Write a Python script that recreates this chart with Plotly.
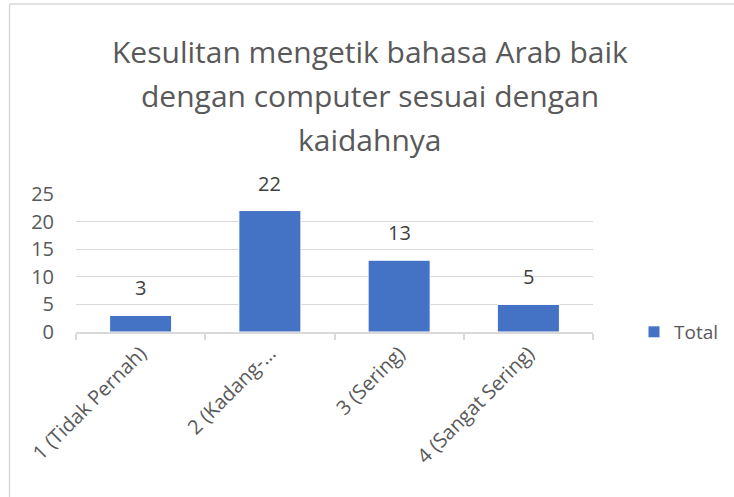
import plotly.graph_objects as go

categories = ["1 (Tidak Pernah)", "2 (Kadang-…", "3 (Sering)", "4 (Sangat Sering)"]
values = [3, 22, 13, 5]
series_name = "Total"
title_lines = ["Kesulitan mengetik bahasa Arab baik", "dengan computer sesuai dengan", "kaidahnya"]
y_ticks = [0, 5, 10, 15, 20, 25]

FONT = "'Open Sans', sans-serif"
W, H = 734, 497
L, R, T, B = 76, 141, 194, 165
plot_h = H - T - B
plot_w = W - L - R

def py(p):
    return (H - B - p) / plot_h

def px(p):
    return (p - L) / plot_w

fig = go.Figure()
fig.add_trace(go.Bar(
    x=categories, y=values, name=series_name,
    marker=dict(color="#4472C4", line=dict(color="white", width=1)),
    width=0.48, showlegend=True,
))

annotations = []
for i, line in enumerate(title_lines):
    annotations.append(dict(
        text=line, xref="paper", yref="paper", x=px(370), y=py(52 + 43.5 * i),
        xanchor="center", yanchor="middle", showarrow=False,
        font=dict(family=FONT, size=30, color="#595959"),
    ))
for c, v in zip(categories, values):
    annotations.append(dict(
        text=str(v), x=c, y=v, xref="x", yref="y", xanchor="center", yanchor="bottom",
        yshift=12, showarrow=False, font=dict(family=FONT, size=20, color="#404040"),
    ))

fig.update_layout(
    width=W, height=H,
    margin=dict(l=L, r=R, t=T, b=B, autoexpand=False),
    paper_bgcolor="white", plot_bgcolor="white",
    annotations=annotations,
    showlegend=True,
    legend=dict(x=px(634), y=py(332), xanchor="left", yanchor="middle",
                font=dict(family=FONT, size=19, color="#595959"),
                itemwidth=30, bgcolor="rgba(0,0,0,0)"),
    shapes=[
        dict(type="line", xref="paper", yref="paper", x0=px(9.5), x1=px(9.5), y0=py(4), y1=py(H + 5),
             line=dict(color="#d9d9d9", width=1.5)),
        dict(type="line", xref="paper", yref="paper", x0=px(9.5), x1=px(W + 5), y0=py(4), y1=py(4),
             line=dict(color="#d9d9d9", width=1.5)),
    ],
)
fig.update_yaxes(range=[0, 25], tickvals=y_ticks, showgrid=True, gridcolor="#d9d9d9", gridwidth=1,
                 zeroline=False, showline=False, ticks="", ticklabelstandoff=21,
                 tickfont=dict(family=FONT, size=20, color="#595959"), fixedrange=True)
fig.update_xaxes(showline=True, linecolor="#d9d9d9", linewidth=1.5, tickson="boundaries",
                 ticks="outside", ticklen=6, tickcolor="#d9d9d9", tickwidth=1.5,
                 tickangle=-45, tickfont=dict(family=FONT, size=20, color="#595959"),
                 showgrid=False, fixedrange=True)

fig.write_html("out.html", config={"displayModeBar": False},
               post_script="document.body.style.margin='0';document.body.style.overflow='hidden';")
